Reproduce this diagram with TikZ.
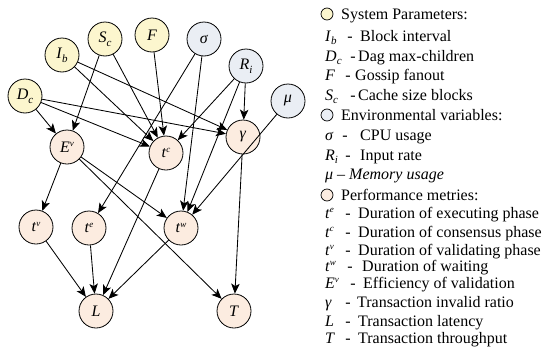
\documentclass[tikz,border=0pt]{standalone}
\usepackage{fontspec}
\setmainfont{Liberation Serif}
\usetikzlibrary{arrows.meta}

\definecolor{sysfill}{RGB}{252,246,206}
\definecolor{envfill}{RGB}{234,238,244}
\definecolor{perffill}{RGB}{252,236,224}

% italic symbol with subscript / superscript
\newcommand\vsb[2]{\textit{#1}\raisebox{-0.5ex}{\fontsize{11}{11}\selectfont\textit{#2}}}
\newcommand\vsp[2]{\textit{#1}\raisebox{0.8ex}{\fontsize{9}{9}\selectfont\textit{#2}}}

\begin{document}
\begin{tikzpicture}[x=1pt,y=-1pt,
  var/.style={circle,draw,line width=0.8pt,minimum size=34pt,inner sep=0pt,
              font=\fontsize{16}{16}\selectfont},
  sysvar/.style={var,fill=sysfill},
  envvar/.style={var,fill=envfill},
  perfvar/.style={var,fill=perffill},
  link/.style={-{Stealth[length=10pt,width=8.5pt,inset=2.5pt]},line width=0.85pt},
  icon/.style={circle,draw,line width=0.7pt,minimum size=12pt,inner sep=0pt},
  legtext/.style={anchor=base west,inner sep=0pt,font=\fontsize{16}{16}\selectfont},
]
\useasboundingbox (0,0) rectangle (543,351);

% variables
\node[sysvar]  (Ib)  at (62,55)   {\vsb{I}{b}};
\node[sysvar]  (Sc)  at (105,39)  {\vsb{S}{c}};
\node[sysvar]  (F)   at (152,35)  {\textit{F}};
\node[envvar]  (sig) at (204,39)  {\textit{σ}};
\node[envvar]  (Ri)  at (246,66)  {\vsb{R}{i}};
\node[envvar]  (mu)  at (288,101) {\textit{μ}};
\node[sysvar]  (Dc)  at (25,96)   {\vsb{D}{c}};
\node[perfvar] (Ev)  at (67,147)  {\vsp{E}{v}};
\node[perfvar] (tc)  at (166,153) {\vsp{t}{c}};
\node[perfvar] (ga)  at (243,137) {\textit{γ}};
\node[perfvar] (tv)  at (36,227)  {\vsp{t}{v}};
\node[perfvar] (te)  at (89,228)  {\vsp{t}{e}};
\node[perfvar] (tw)  at (181,228) {\vsp{t}{w}};
\node[perfvar] (L)   at (96,311)  {\textit{L}};
\node[perfvar] (T)   at (234,311) {\textit{T}};

% dependencies
\foreach \a/\b in {Ib/tc, Ib/ga, Dc/Ev, Dc/tc, Dc/ga, Sc/Ev, Sc/tc, F/tc,
                   sig/te, sig/tw, Ri/tc, Ri/ga, Ri/tw, mu/tw,
                   Ev/tv, Ev/tw, Ev/T, tc/L, ga/T,
                   tv/L, te/L, tw/L}
  \draw[link] (\a) -- (\b);

% legend
\node[icon,fill=sysfill]  (k1) at (327,14)  {};
\node[icon,fill=envfill]  (k2) at (327,115) {};
\node[icon,fill=perffill] (k3) at (327,195) {};
\node[legtext] (h1) at (341,19.5)  {System Parameters:};
\node[legtext] (h2) at (341,120.5) {Environmental variables:};
\node[legtext] (h3) at (341,200.5) {Performance metries:};

\foreach \yy/\sym/\dx/\txt/\tx in {
    41/{\vsb{I}{b}}/350/{Block interval}/360,
    61/{\vsb{D}{c}}/353/{Dag max-children}/358,
    80.5/{\textit{F}}/348/{Gossip fanout}/355,
    100/{\vsb{S}{c}}/353/{Cache size blocks}/358,
    140.5/{\textit{σ}}/345/{CPU usage}/360,
    160/{\vsb{R}{i}}/348/{Input rate}/360,
    218.5/{\vsp{t}{e}}/348/{Duration of executing phase}/358,
    237.5/{\vsp{t}{c}}/348/{Duration of consensus phase}/358,
    255.5/{\vsp{t}{v}}/348/{Duration of validating phase}/358,
    271/{\vsp{t}{w}}/350/{Duration of waiting}/362,
    288.5/{\vsp{E}{v}}/353/{Efficiency of validation}/363,
    307.5/{\textit{γ}}/348/{Transaction invalid ratio}/357,
    326/{\textit{L}}/348/{Transaction latency}/358,
    343.5/{\textit{T}}/348/{Transaction throughput}/358}
{
  \node[legtext] at (325,\yy) {\sym};
  \node[legtext,anchor=base] at (\dx,\yy) {-};
  \node[legtext] at (\tx,\yy) {\txt};
}
\node[legtext] (m) at (325,179.5) {\textit{μ – Memory usage}};
\end{tikzpicture}
\end{document}
